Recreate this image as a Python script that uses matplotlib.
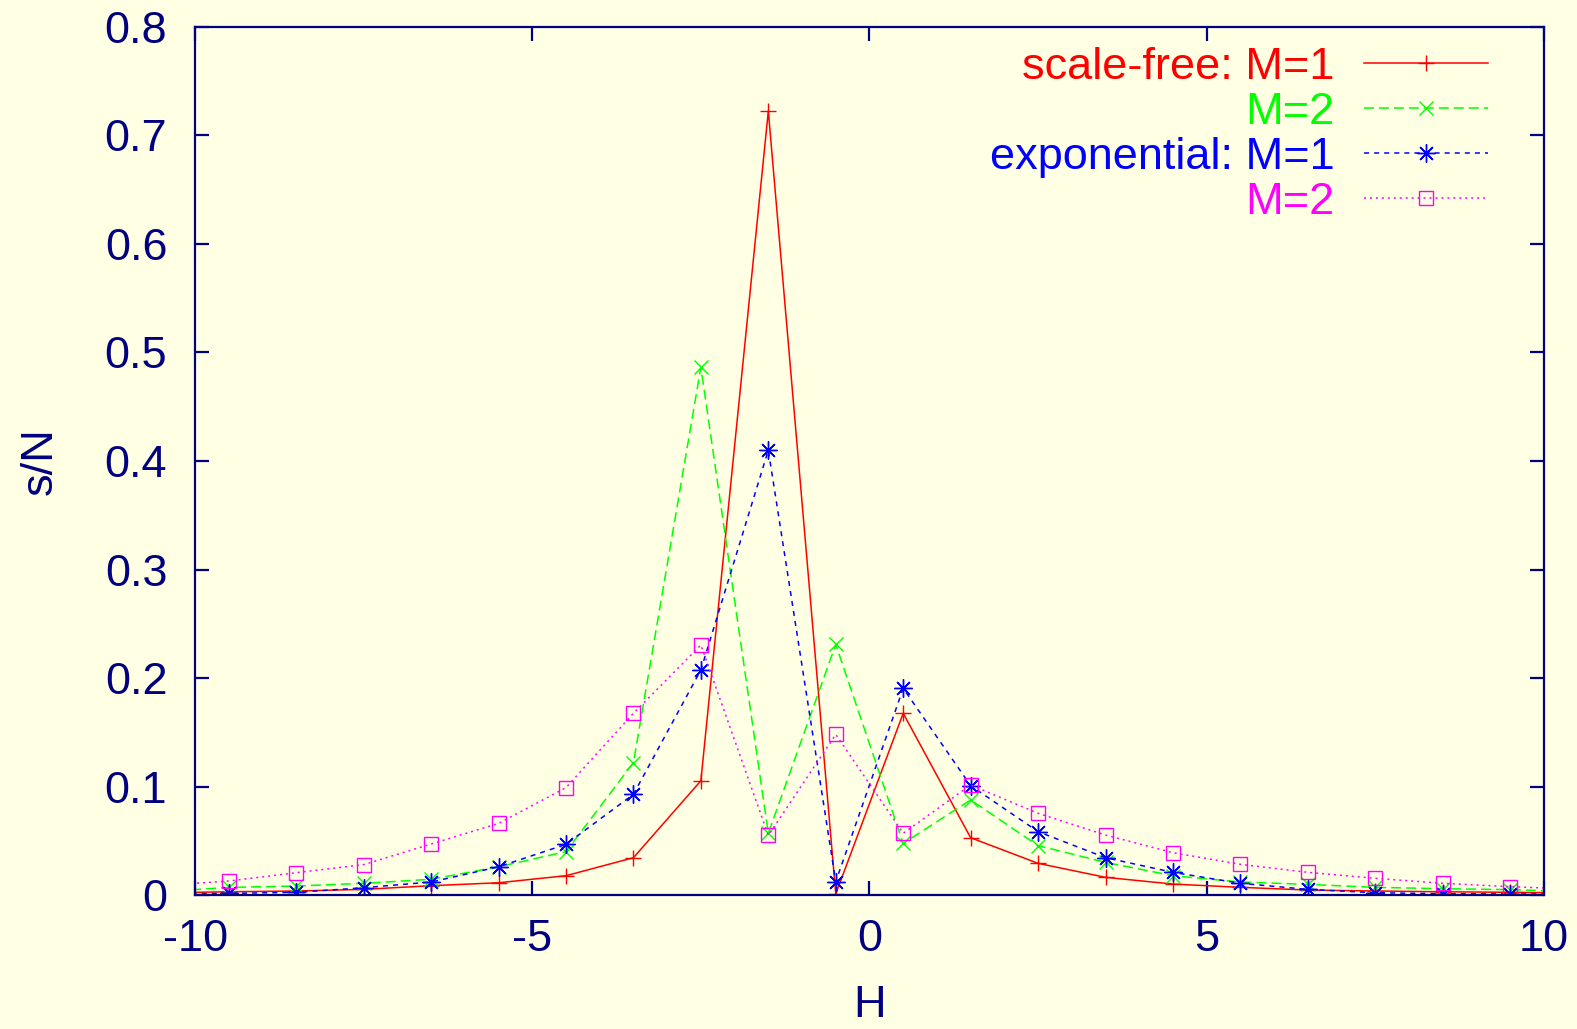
import numpy as np
import matplotlib
matplotlib.use("Agg")
import matplotlib.pyplot as plt

plt.rcParams['font.family'] = ['Liberation Sans', 'DejaVu Sans']
plt.rcParams['axes.unicode_minus'] = False

# bin centres of H (the two outer bins lie outside the plotted range)
H = [-10.5, -9.5, -8.5, -7.5, -6.5, -5.5, -4.5, -3.5, -2.5, -1.5, -0.5,
     0.5, 1.5, 2.5, 3.5, 4.5, 5.5, 6.5, 7.5, 8.5, 9.5, 10.5]

sf_m1 = [0.002, 0.003, 0.0037, 0.0052, 0.0086, 0.0113, 0.0178, 0.0344, 0.1053, 0.7225, 0.001,
         0.1675, 0.0528, 0.0292, 0.0163, 0.0101, 0.0071, 0.0046, 0.0037, 0.003, 0.0025, 0.002]
sf_m2 = [0.003, 0.007, 0.0083, 0.0108, 0.0145, 0.026, 0.040, 0.122, 0.4864, 0.0569, 0.231,
         0.0476, 0.0876, 0.0455, 0.0301, 0.0178, 0.012, 0.0098, 0.0071, 0.0058, 0.005, 0.003]
exp_m1 = [0.001, 0.0015, 0.0025, 0.0067, 0.012, 0.026, 0.0467, 0.0928, 0.2074, 0.410, 0.0123,
          0.1905, 0.1008, 0.0584, 0.0344, 0.0209, 0.0108, 0.0052, 0.0021, 0.0012, 0.001, 0.001]
exp_m2 = [0.0087, 0.0129, 0.0206, 0.028, 0.047, 0.066, 0.099, 0.1675, 0.2304, 0.055, 0.148,
          0.0569, 0.1014, 0.0753, 0.0553, 0.039, 0.0283, 0.0209, 0.0154, 0.0108, 0.0077, 0.0053]

labels = ['scale-free: M=1', 'M=2', 'exponential: M=1', 'M=2']

fondo = '#FFFFE4'
ejes_col = '#000080'
fs = 32.5

# datos, color, marcador, tamaño, guiones, relleno
series = [
    (sf_m1, 'red', '+', 11, (None, None), 'full'),
    (sf_m2, '#00FF00', 'x', 10, (6.5, 3.3), 'full'),
    (exp_m1, 'blue', (8, 2, 0), 13, (3.3, 3.3), 'full'),
    (exp_m2, 'magenta', 's', 10, (1.3, 2.6), 'none'),
]

fig = plt.figure(figsize=(15.77, 10.29), dpi=100)
fig.patch.set_facecolor(fondo)
ax = fig.add_axes([0.1237, 0.1302, 0.8553, 0.8436])
ax.set_facecolor(fondo)

x = np.array(H)
dentro = (x > -10) & (x < 10)
handles = []
for (vals, col, mk, ms, dash, fill), lab in zip(series, labels):
    y = np.array(vals)
    ln, = ax.plot(x, y, color=col, lw=1.1, marker=mk, markersize=ms,
                  markevery=list(np.where(dentro)[0]), mew=1.0,
                  fillstyle=fill, label=lab)
    if dash[0] is not None:
        ln.set_dashes(dash)
    handles.append(ln)

ax.set_xlim(-10, 10)
ax.set_ylim(0, 0.8)
ax.set_xticks([-10, -5, 0, 5, 10])
ax.set_yticks(np.arange(0, 0.81, 0.1))
ax.set_yticklabels(['0', '0.1', '0.2', '0.3', '0.4', '0.5', '0.6', '0.7', '0.8'])

for s in ax.spines.values():
    s.set_color(ejes_col)
    s.set_linewidth(1.6)
ax.tick_params(which='both', direction='in', length=10, width=1.6, color=ejes_col,
               top=True, right=True, labelsize=fs, labelcolor=ejes_col)
ax.tick_params(axis='x', pad=17)
ax.tick_params(axis='y', pad=20)

ax.set_xlabel('H', fontsize=fs, color=ejes_col, labelpad=18)
ax.set_ylabel('s/N', fontsize=fs, color=ejes_col, labelpad=32)

leg = ax.legend(handles=handles, loc='upper right', bbox_to_anchor=(0.982, 1.013),
                frameon=False, markerfirst=False, numpoints=1, fontsize=fs,
                handlelength=2.75, handletextpad=0.65, labelspacing=0.088,
                labelcolor='linecolor', borderaxespad=0.3)

fig.savefig('out.png', dpi=100, facecolor=fondo)
